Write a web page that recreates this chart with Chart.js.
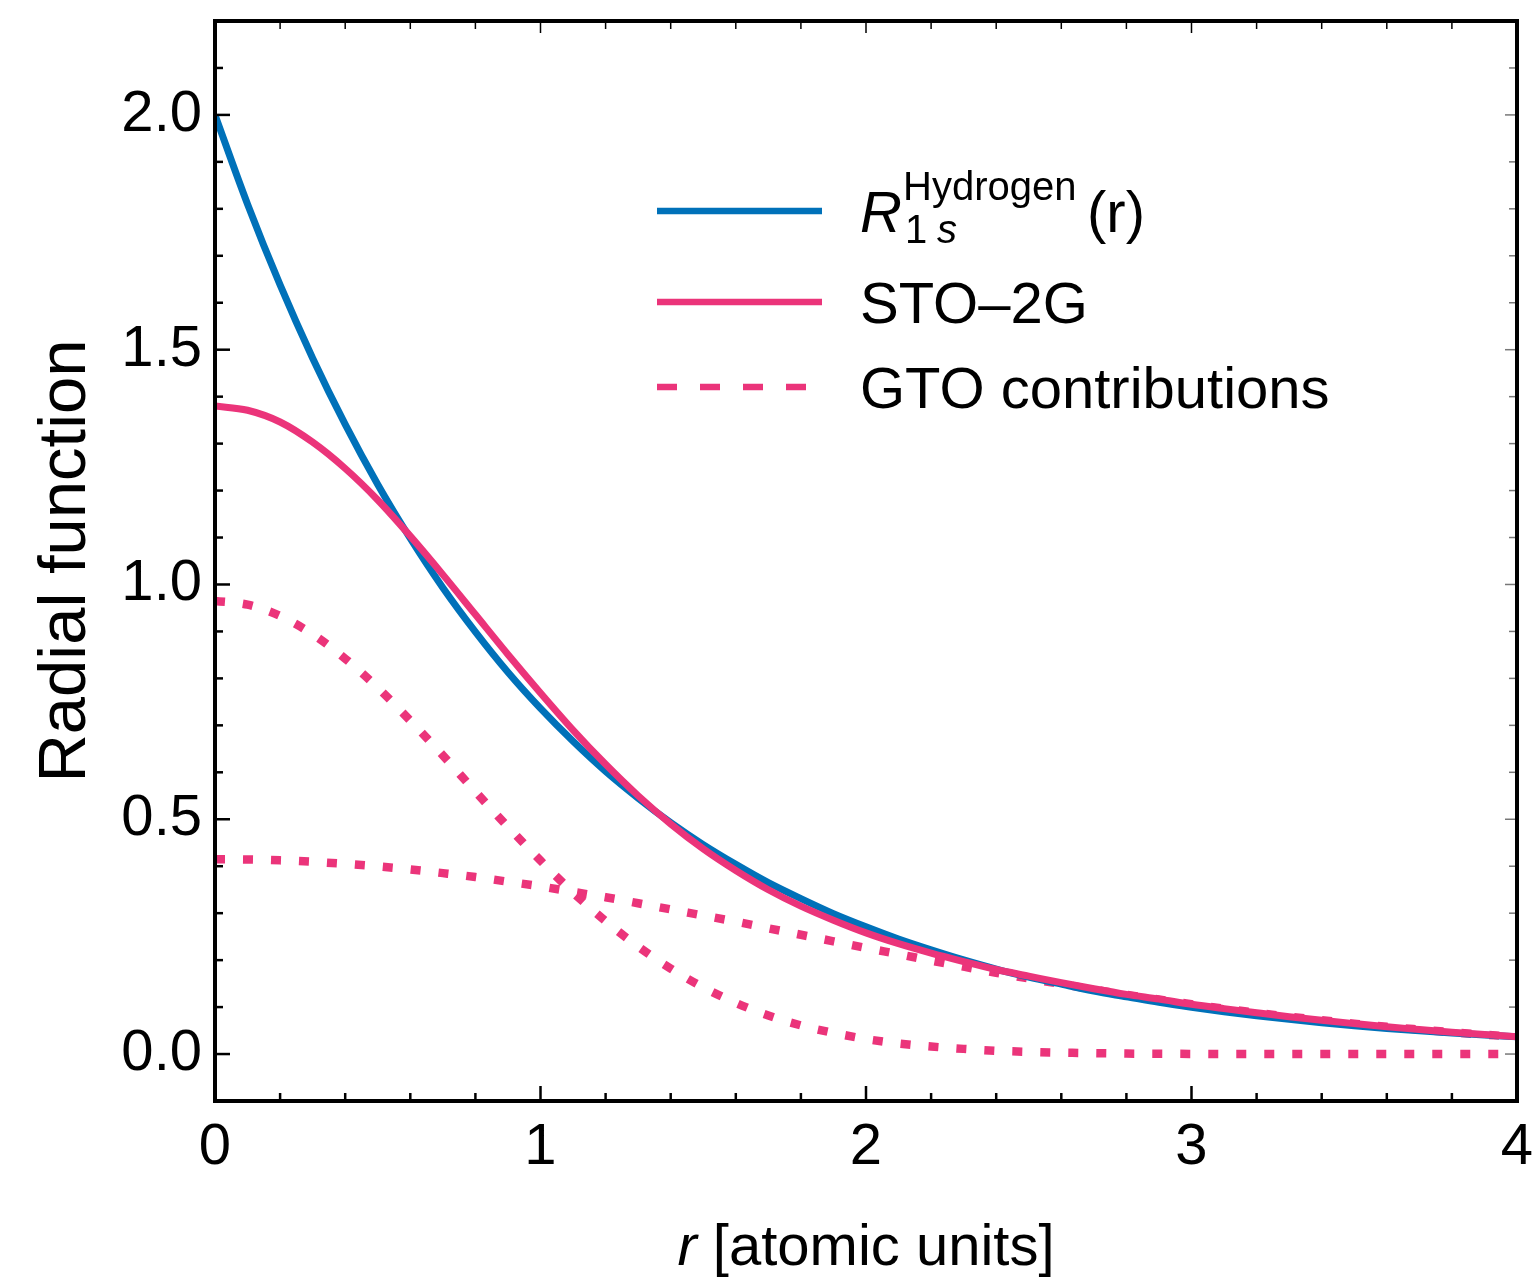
<!DOCTYPE html>
<html>
<head>
<meta charset="utf-8">
<script src="https://cdn.jsdelivr.net/npm/chart.js@4.4.1/dist/chart.umd.min.js"></script>
<style>
  html, body { margin: 0; padding: 0; background: #fff; }
</style>
</head>
<body>
<canvas id="radial" width="1532" height="1277"></canvas>
<script>
// r grid (atomic units) and values
var rValues = [0, 0.1, 0.2, 0.3, 0.4, 0.5, 0.6, 0.7, 0.8, 0.9, 1.0,
               1.1, 1.2, 1.3, 1.4, 1.5, 1.6, 1.7, 1.8, 1.9, 2.0,
               2.1, 2.2, 2.3, 2.4, 2.5, 2.6, 2.7, 2.8, 2.9, 3.0,
               3.1, 3.2, 3.3, 3.4, 3.5, 3.6, 3.7, 3.8, 3.9, 4.0];
var hydrogen1s = [2.000, 1.810, 1.638, 1.482, 1.341, 1.213, 1.098, 0.993, 0.899, 0.813, 0.736,
                  0.666, 0.602, 0.545, 0.493, 0.446, 0.404, 0.365, 0.331, 0.299, 0.271,
                  0.245, 0.222, 0.2005, 0.181, 0.164, 0.149, 0.134, 0.122, 0.110, 0.0996,
                  0.0901, 0.0815, 0.0738, 0.0667, 0.0604, 0.0546, 0.0494, 0.0447, 0.0405, 0.0366];
var sto2g = [1.380, 1.371, 1.346, 1.303, 1.247, 1.180, 1.103, 1.021, 0.936, 0.851, 0.769,
             0.690, 0.617, 0.550, 0.490, 0.437, 0.391, 0.350, 0.315, 0.285, 0.258,
             0.235, 0.215, 0.197, 0.180, 0.166, 0.152, 0.139, 0.127, 0.117, 0.106,
             0.0967, 0.088, 0.0796, 0.072, 0.0648, 0.058, 0.0521, 0.0465, 0.0414, 0.0367];
var gtoNarrow = [0.965, 0.957, 0.933, 0.894, 0.842, 0.780, 0.710, 0.636, 0.559, 0.484, 0.412,
                 0.344, 0.283, 0.229, 0.182, 0.142, 0.109, 0.082, 0.061, 0.045, 0.032,
                 0.0225, 0.016, 0.011, 0.007, 0.0047, 0.003, 0.002, 0.001, 0.0007, 0.0003,
                 0, 0, 0, 0, 0, 0, 0, 0, 0, 0];
var gtoWide = [0.415, 0.4144, 0.4125, 0.4094, 0.405, 0.3996, 0.393, 0.3853, 0.377, 0.367, 0.357,
               0.3454, 0.334, 0.3212, 0.308, 0.2951, 0.282, 0.2678, 0.254, 0.2401, 0.226,
               0.2127, 0.199, 0.1861, 0.173, 0.1609, 0.149, 0.1374, 0.126, 0.116, 0.106,
               0.0967, 0.088, 0.0796, 0.072, 0.0648, 0.058, 0.0521, 0.0465, 0.0414, 0.0367];
var xTickLabels = [0, 1, 2, 3, 4];
var yTickLabels = [0, 0.5, 1.0, 1.5, 2.0];

var BLUE = '#0071B9';
var PINK = '#EB347A';
var FONT = '"Liberation Sans", Arial, Helvetica, sans-serif';

function pts(ys) {
  return rValues.map(function (r, i) { return { x: r, y: ys[i] }; });
}

function seg(ctx, x1, y1, x2, y2) {
  ctx.beginPath();
  ctx.moveTo(x1, y1);
  ctx.lineTo(x2, y2);
  ctx.stroke();
}

function noPad(scale) {
  scale.paddingTop = 0;
  scale.paddingBottom = 0;
  scale.paddingLeft = 0;
  scale.paddingRight = 0;
}

// inward ticks on all four sides + frame, then legend and axis titles
var frameTicks = {
  id: 'frameTicks',
  afterDatasetsDraw: function (chart) {
    var ctx = chart.ctx, a = chart.chartArea;
    var xs = chart.scales.x, ys = chart.scales.y;
    ctx.save();
    ctx.lineCap = 'butt';
    for (var i = 0; i <= 20; i++) {
      var px = xs.getPixelForValue(i / 5);
      var major = i % 5 === 0;
      ctx.strokeStyle = '#000';
      ctx.lineWidth = 2.5;
      seg(ctx, px, a.bottom, px, a.bottom - (major ? 15 : 8));
      ctx.lineWidth = 1.5;
      seg(ctx, px, a.top, px, a.top + (major ? 12 : 8));
    }
    for (var j = -1; j <= 22; j++) {
      var py = ys.getPixelForValue(j / 10);
      var maj = j % 5 === 0;
      ctx.strokeStyle = '#000';
      ctx.lineWidth = 2.5;
      seg(ctx, a.left, py, a.left + (maj ? 15 : 8), py);
      ctx.strokeStyle = '#777';
      ctx.lineWidth = 1.5;
      seg(ctx, a.right, py, a.right - (maj ? 12 : 8), py);
    }
    ctx.strokeStyle = '#000';
    ctx.lineWidth = 4;
    ctx.strokeRect(a.left, a.top, a.right - a.left, a.bottom - a.top);
    ctx.restore();
  },
  afterDraw: function (chart) {
    var ctx = chart.ctx, a = chart.chartArea;
    ctx.save();
    // legend
    ctx.lineCap = 'butt';
    ctx.lineWidth = 6.5;
    ctx.strokeStyle = BLUE;
    seg(ctx, 657, 211, 822, 211);
    ctx.strokeStyle = PINK;
    seg(ctx, 657, 302, 822, 302);
    ctx.setLineDash([20, 23]);
    seg(ctx, 657, 387, 822, 387);
    ctx.setLineDash([]);

    ctx.fillStyle = '#000';
    ctx.textAlign = 'left';
    ctx.textBaseline = 'alphabetic';
    ctx.font = 'italic 58px ' + FONT;
    ctx.fillText('R', 860, 232);
    ctx.font = '40px ' + FONT;
    ctx.fillText('Hydrogen', 903, 200);
    ctx.fillText('1', 905, 243);
    ctx.font = 'italic 40px ' + FONT;
    ctx.fillText('s', 937, 243);
    ctx.font = '58px ' + FONT;
    ctx.fillText('(r)', 1087, 232);
    ctx.fillText('STO\u20132G', 860, 323);
    ctx.fillText('GTO contributions', 860, 408);

    // x title with italic r
    ctx.font = 'italic 58px ' + FONT;
    var w1 = ctx.measureText('r').width;
    ctx.font = '58px ' + FONT;
    var w2 = ctx.measureText(' [atomic units]').width;
    var cx = (a.left + a.right) / 2;
    var x0 = cx - (w1 + w2) / 2;
    ctx.font = 'italic 58px ' + FONT;
    ctx.fillText('r', x0, 1265);
    ctx.font = '58px ' + FONT;
    ctx.fillText(' [atomic units]', x0 + w1, 1265);

    // y title
    ctx.translate(85, (a.top + a.bottom) / 2);
    ctx.rotate(-Math.PI / 2);
    ctx.textAlign = 'center';
    ctx.font = '67px ' + FONT;
    ctx.fillText('Radial function', 0, 0);
    ctx.restore();
  }
};

var ctx = document.getElementById('radial').getContext('2d');
var radialChart = new Chart(ctx, {
  type: 'line',
  data: {
    datasets: [{
      label: 'Hydrogen 1s',
      data: pts(hydrogen1s),
      borderColor: BLUE,
      borderWidth: 7,
      order: 1
    }, {
      label: 'STO-2G',
      data: pts(sto2g),
      borderColor: PINK,
      borderWidth: 7,
      order: 0
    }, {
      label: 'GTO contributions',
      data: pts(gtoNarrow),
      borderColor: PINK,
      borderWidth: 8.5,
      borderDash: [10, 18],
      borderCapStyle: 'butt',
      order: 2
    }, {
      label: 'GTO wide',
      data: pts(gtoWide),
      borderColor: PINK,
      borderWidth: 8.5,
      borderDash: [10, 18],
      borderCapStyle: 'butt',
      order: 2
    }]
  },
  options: {
    responsive: false,
    animation: false,
    layout: { padding: { top: 21, right: 15, left: 0, bottom: 0 } },
    elements: {
      point: { radius: 0, hoverRadius: 0 },
      line: { cubicInterpolationMode: 'monotone', fill: false }
    },
    plugins: {
      legend: { display: false },
      tooltip: { enabled: false }
    },
    scales: {
      x: {
        type: 'linear',
        min: 0,
        max: 4,
        grid: { display: false, drawTicks: false },
        border: { display: false },
        afterBuildTicks: function (scale) {
          scale.ticks = xTickLabels.map(function (v) { return { value: v }; });
        },
        afterFit: function (scale) { scale.height = 176; noPad(scale); },
        ticks: {
          color: '#000',
          padding: 12,
          maxRotation: 0,
          font: { family: FONT, size: 58 },
          callback: function (v) { return String(v); }
        }
      },
      y: {
        type: 'linear',
        min: -0.1,
        max: 2.2,
        grid: { display: false, drawTicks: false },
        border: { display: false },
        afterBuildTicks: function (scale) {
          scale.ticks = yTickLabels.map(function (v) { return { value: v }; });
        },
        afterFit: function (scale) { scale.width = 215; noPad(scale); },
        ticks: {
          color: '#000',
          padding: 13,
          font: { family: FONT, size: 58 },
          callback: function (v) { return Number(v).toFixed(1); }
        }
      }
    }
  },
  plugins: [frameTicks]
});
</script>
</body>
</html>
